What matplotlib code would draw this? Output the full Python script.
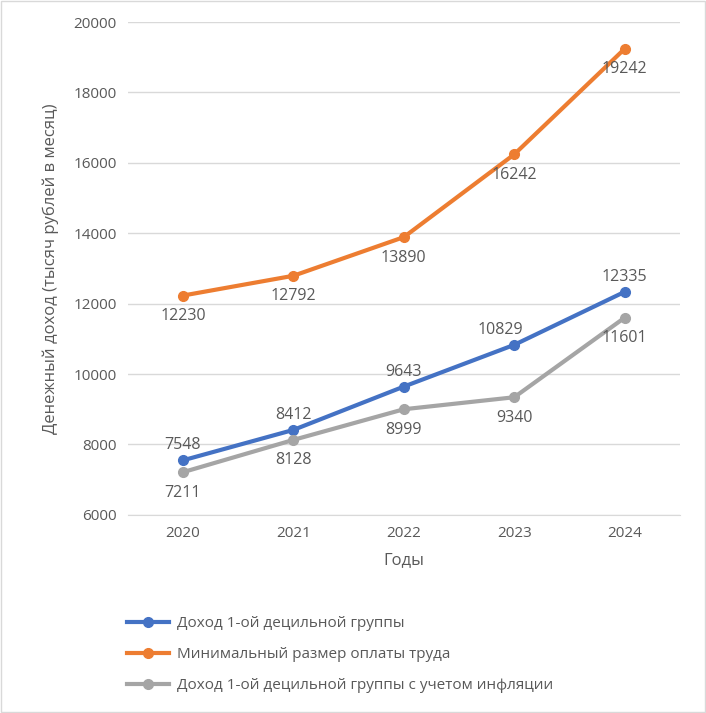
import matplotlib
matplotlib.use("Agg")
import matplotlib.pyplot as plt
from matplotlib.lines import Line2D

years = [2020, 2021, 2022, 2023, 2024]
income = [7548, 8412, 9643, 10829, 12335]
mrot = [12230, 12792, 13890, 16242, 19242]
income_real = [7211, 8128, 8999, 9340, 11601]

names = ["Доход 1-ой децильной группы",
         "Минимальный размер оплаты труда",
         "Доход 1-ой децильной группы с учетом инфляции"]
colors = ["#4472C4", "#ED7D31", "#A5A5A5"]
txt = "#595959"

plt.rcParams['font.family'] = ['Open Sans', 'DejaVu Sans']

fig = plt.figure(figsize=(7.06, 7.13), dpi=100)
ax = fig.add_axes([0.181, 0.278, 0.782, 0.691])
x = list(range(len(years)))

for vals, c in zip([income, mrot, income_real], colors):
    ax.plot(x, vals, color=c, lw=3, marker="o", ms=7, zorder=3)

# data labels
for i, v in enumerate(income):
    dx = -10 if i == 3 else 0
    ax.annotate(str(v), (i, v), xytext=(dx, 5), textcoords="offset points",
                ha="center", va="bottom", fontsize=11.5, color=txt)
for i, v in enumerate(mrot):
    ax.annotate(str(v), (i, v), xytext=(0, -9), textcoords="offset points",
                ha="center", va="top", fontsize=11.5, color=txt)
for i, v in enumerate(income_real):
    ax.annotate(str(v), (i, v), xytext=(0, -9), textcoords="offset points",
                ha="center", va="top", fontsize=11.5, color=txt)

ax.set_xlim(-0.5, 4.5)
ax.set_ylim(6000, 20000)
ax.set_yticks(range(6000, 20001, 2000))
ax.set_xticks(x)
ax.set_xticklabels([str(y) for y in years])
ax.grid(axis="y", color="#D9D9D9", lw=1)
ax.set_axisbelow(True)
for s in ["top", "right", "left"]:
    ax.spines[s].set_visible(False)
ax.spines["bottom"].set_color("#D9D9D9")
ax.tick_params(length=0, labelsize=11, colors=txt, pad=8)
ax.set_xlabel("Годы", fontsize=12, color=txt, labelpad=8)
ax.set_ylabel("Денежный доход (тысяч рублей в месяц)", fontsize=12, color=txt, labelpad=10)

handles = [Line2D([0], [0], color=c, lw=3, marker="o", ms=7) for c in colors]
fig.legend(handles, names, loc="upper left", bbox_to_anchor=(0.16, 0.155),
           frameon=False, fontsize=11, labelcolor=txt, handlelength=2.8,
           handletextpad=0.5, labelspacing=1.05)

fig.patches.append(plt.Rectangle((0.002, 0.002), 0.996, 0.996, transform=fig.transFigure,
                                 fill=False, edgecolor="#D9D9D9", lw=1))
fig.savefig("out.png", dpi=100)
